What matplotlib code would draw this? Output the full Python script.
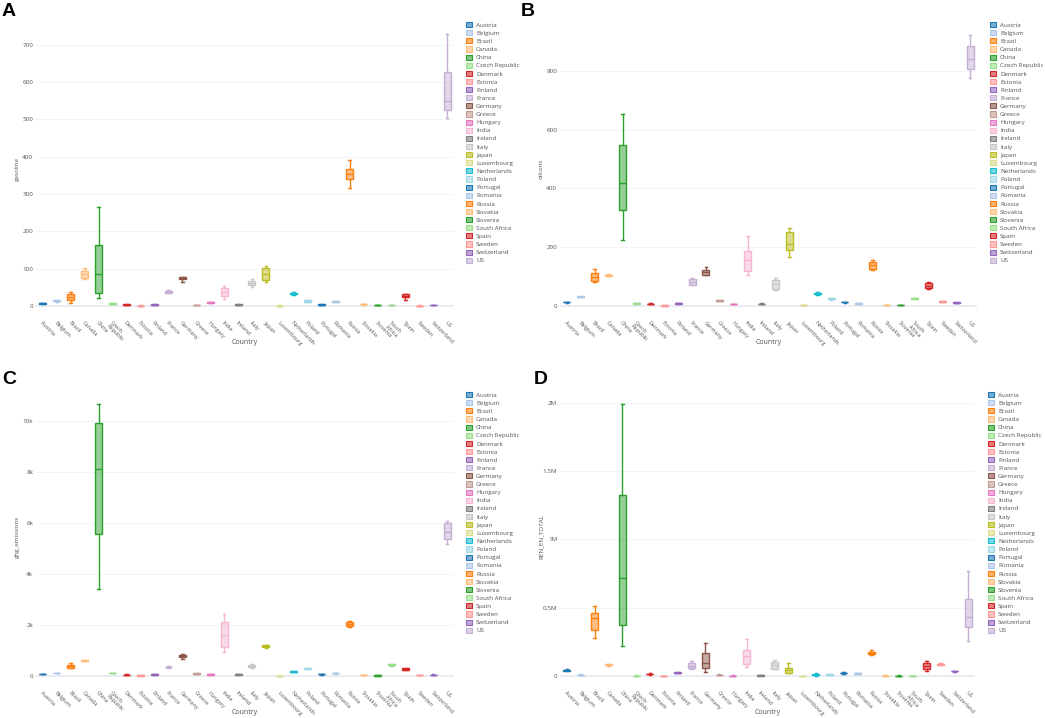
import numpy as np
import matplotlib as mpl
mpl.use('agg')
import matplotlib.pyplot as plt
from matplotlib.patches import Patch

plt.rcParams['font.family'] = ['Open Sans', 'DejaVu Sans']

countries = ['Austria', 'Belgium', 'Brazil', 'Canada', 'China', 'Czech Republic', 'Denmark',
             'Estonia', 'Finland', 'France', 'Germany', 'Greece', 'Hungary', 'India', 'Ireland',
             'Italy', 'Japan', 'Luxembourg', 'Netherlands', 'Poland', 'Portugal', 'Romania',
             'Russia', 'Slovakia', 'Slovenia', 'South Africa', 'Spain', 'Sweden', 'Switzerland', 'US']
# tick text wraps the two long names onto two lines
tick_names = [c.replace(' ', '\n') for c in countries]

# (whisker low, q1, median, q3, whisker high) per country
gasoline = [(5, 6, 7, 8, 9), (12, 13, 14, 15, 16), (8, 17, 24, 32, 38), (73, 76, 85, 95, 102),
            (21, 36, 85, 164, 265), (5, 6, 6, 7, 8), (3, 3.5, 4, 4.5, 5), (0.5, 0.8, 1, 1.2, 1.5),
            (3, 3.5, 4, 4.5, 5), (35, 36, 38, 40, 42), (65, 72, 74, 77, 78), (2, 2.5, 3, 3.5, 4),
            (8, 9, 10, 11, 12), (20, 26, 38, 48, 53), (3, 3.5, 4, 4.5, 5), (50, 57, 62, 68, 72),
            (63, 71, 87, 102, 107), (0.5, 0.8, 1, 1.2, 1.5), (29, 31, 33, 36, 38), (10, 11, 13, 15, 17),
            (3, 3.5, 4, 4.5, 5), (10, 11, 12, 13, 14), (315, 340, 353, 368, 391), (4, 4.5, 5, 5.5, 6),
            (1.5, 1.8, 2, 2.2, 2.5), (2, 2.5, 3, 3.5, 4), (15, 23, 27, 31, 33), (0.5, 0.8, 1, 1.2, 1.5),
            (2, 2.5, 3, 3.5, 4), (503, 524, 549, 628, 730)]

oilcons = [(11, 12, 12.5, 13, 14), (30, 31, 32, 33, 34), (82, 86, 100, 112, 127), (101, 103, 105, 107, 109),
           (224, 325, 419, 547, 654), (8, 8.5, 9, 9.5, 10), (7, 7.5, 8, 8.5, 9), (1, 1.2, 1.5, 1.8, 2),
           (8, 8.5, 9, 9.5, 10), (70, 72, 81, 92, 94), (106, 107, 115, 124, 132), (16, 17, 18, 19, 20),
           (6, 6.5, 7, 7.5, 8), (105, 119, 155, 187, 237), (7, 7.5, 8, 8.5, 9), (55, 58, 74, 89, 94),
           (167, 191, 212, 251, 264), (2, 2.2, 2.5, 2.8, 3), (39, 41, 42, 44, 46), (22, 24, 25, 27, 28),
           (11, 12, 13, 14, 15), (8, 8.5, 9, 9.5, 10), (122, 126, 138, 149, 156), (3, 3.5, 4, 4.5, 5),
           (2, 2.5, 3, 3.5, 4), (24, 25, 26, 27, 28), (57, 60, 68, 77, 80), (13, 14, 15, 16, 17),
           (10, 10.5, 11, 12, 12.5), (776, 805, 842, 884, 923)]

ghg_emissions = [(70, 75, 80, 85, 90), (105, 110, 115, 120, 125), (300, 330, 400, 450, 500),
                 (570, 580, 600, 615, 630), (3420, 5560, 8130, 9930, 10650), (110, 115, 120, 125, 130),
                 (40, 45, 50, 55, 60), (15, 18, 20, 22, 25), (50, 55, 60, 65, 70), (320, 335, 350, 365, 380),
                 (650, 740, 780, 820, 850), (85, 90, 95, 100, 105), (50, 55, 60, 65, 70),
                 (950, 1120, 1620, 2120, 2420), (50, 55, 60, 65, 70), (330, 345, 400, 440, 455),
                 (1080, 1130, 1170, 1200, 1230), (8, 10, 12, 14, 16), (150, 160, 170, 180, 190),
                 (280, 290, 300, 310, 320), (55, 60, 65, 70, 75), (95, 100, 110, 115, 120),
                 (1930, 1980, 2050, 2100, 2150), (35, 38, 40, 42, 45), (15, 18, 20, 22, 25),
                 (380, 420, 450, 470, 480), (240, 250, 280, 320, 330), (45, 48, 50, 52, 55),
                 (40, 45, 50, 55, 60), (5180, 5360, 5630, 5990, 6080)]

# in millions
ren_en_total = [(0.036, 0.039, 0.042, 0.045, 0.048), (0.004, 0.006, 0.008, 0.010, 0.013),
                (0.277, 0.34, 0.426, 0.458, 0.515), (0.076, 0.079, 0.083, 0.087, 0.09),
                (0.223, 0.377, 0.718, 1.328, 1.995), (0.002, 0.0025, 0.003, 0.0035, 0.004),
                (0.010, 0.012, 0.015, 0.018, 0.020), (0.001, 0.0015, 0.002, 0.0025, 0.003),
                (0.020, 0.022, 0.024, 0.026, 0.028), (0.054, 0.058, 0.075, 0.093, 0.113),
                (0.032, 0.059, 0.098, 0.172, 0.24), (0.005, 0.006, 0.008, 0.010, 0.011),
                (0.002, 0.0025, 0.003, 0.0035, 0.004), (0.069, 0.088, 0.147, 0.194, 0.272),
                (0.002, 0.003, 0.004, 0.005, 0.006), (0.048, 0.052, 0.08, 0.1, 0.12),
                (0.02, 0.025, 0.045, 0.061, 0.098), (0.0005, 0.0008, 0.001, 0.0012, 0.0015),
                (0.003, 0.006, 0.01, 0.014, 0.02), (0.004, 0.007, 0.01, 0.014, 0.018),
                (0.016, 0.019, 0.022, 0.025, 0.028), (0.015, 0.018, 0.02, 0.022, 0.025),
                (0.155, 0.163, 0.17, 0.178, 0.19), (0.002, 0.0025, 0.003, 0.0035, 0.004),
                (0.002, 0.0025, 0.003, 0.0035, 0.004), (0.001, 0.0015, 0.002, 0.0025, 0.003),
                (0.035, 0.049, 0.075, 0.098, 0.11), (0.078, 0.081, 0.085, 0.089, 0.093),
                (0.031, 0.033, 0.035, 0.037, 0.039), (0.26, 0.36, 0.434, 0.561, 0.767)]

ticks_a = [0, 100, 200, 300, 400, 500, 600, 700]
ticks_b = [0, 200, 400, 600, 800]
ticks_c = [0, 2000, 4000, 6000, 8000, 10000]
labels_c = ['0', '2k', '4k', '6k', '8k', '10k']
ticks_d = [0, 0.5e6, 1e6, 1.5e6, 2e6]
labels_d = ['0', '0.5M', '1M', '1.5M', '2M']

W, H = 1045, 718
colors = [plt.cm.tab20(i % 20) for i in range(len(countries))]


def px_axes(fig, x0, y0, x1, y1):
    return fig.add_axes([x0 / W, 1 - y1 / H, (x1 - x0) / W, (y1 - y0) / H])


def draw_panel(fig, rect, data, scale, ylim, ticks, ticklabels, ylabel, letter, letter_xy, legend_xy):
    x0, y0, x1, y1 = rect
    ax = px_axes(fig, x0, y0, x1, y1)
    stats = []
    for name, (lo, q1, med, q3, hi) in zip(countries, data):
        stats.append(dict(label=name, whislo=lo * scale, q1=q1 * scale, med=med * scale,
                          q3=q3 * scale, whishi=hi * scale, fliers=[]))
    pos = np.arange(len(countries))
    bp = ax.bxp(stats, positions=pos, widths=0.5, capwidths=0.2, patch_artist=True,
                showfliers=False, manage_ticks=False)
    for i, c in enumerate(colors):
        bp['boxes'][i].set_facecolor((c[0], c[1], c[2], 0.5))
        bp['boxes'][i].set_edgecolor(c)
        bp['boxes'][i].set_linewidth(1.0)
        bp['medians'][i].set_color(c)
        bp['medians'][i].set_linewidth(1.0)
        for j in (2 * i, 2 * i + 1):
            bp['whiskers'][j].set_color(c)
            bp['whiskers'][j].set_linewidth(1.0)
            bp['caps'][j].set_color(c)
            bp['caps'][j].set_linewidth(1.0)
    ax.set_xlim(-0.5, len(countries) - 0.5)
    ax.set_ylim(*ylim)
    ax.set_yticks(ticks)
    ax.set_yticklabels(ticklabels)
    ax.set_xticks(pos)
    ax.set_xticklabels(tick_names, rotation=-45, ha='left', va='top', rotation_mode='anchor',
                       fontsize=4.0, linespacing=1.0)
    for t in ticks:
        ax.axhline(t, color='#e6e9ef' if t == 0 else '#f1f3f6', lw=1.2 if t == 0 else 0.6, zorder=0)
    for s in ax.spines.values():
        s.set_visible(False)
    ax.tick_params(axis='both', length=0, labelcolor='#555555')
    ax.tick_params(axis='y', pad=2, labelsize=4.5)
    ax.tick_params(axis='x', pad=7.5)
    axh = y1 - y0
    axw = x1 - x0
    ax.set_xlabel('Country', fontsize=5, color='#555555')
    ax.xaxis.set_label_coords(0.5, -29 / axh)
    ax.set_ylabel(ylabel, fontsize=4.5, color='#555555')
    ax.yaxis.set_label_coords(-16 / axw, 0.5)
    fig.text(letter_xy[0] / W, 1 - letter_xy[1] / H, letter, fontsize=14, fontweight='bold',
             family=['Liberation Sans', 'DejaVu Sans'], va='top', ha='left')
    handles = [Patch(facecolor=(c[0], c[1], c[2], 0.6), edgecolor=c, lw=0.8) for c in colors]
    fig.legend(handles, countries, loc='upper left',
               bbox_to_anchor=(legend_xy[0] / W, 1 - legend_xy[1] / H),
               frameon=False, fontsize=4.5, handlelength=0.9, handleheight=0.9,
               handletextpad=0.7, labelspacing=0.38, borderpad=0, borderaxespad=0,
               labelcolor='#555555')
    return ax


fig = plt.figure(figsize=(W / 100, H / 100), dpi=100)

draw_panel(fig, (36, 28, 454, 310), gasoline, 1, (-10.7, 745), ticks_a,
           [str(t) for t in ticks_a], 'gasoline', 'A', (2, 3), (466, 22))
draw_panel(fig, (560, 28, 977, 310), oilcons, 1, (-13.6, 946), ticks_b,
           [str(t) for t in ticks_b], 'oilcons', 'B', (521, 3), (990, 22))
draw_panel(fig, (36, 393, 454, 680), ghg_emissions, 1, (-157, 11098), ticks_c,
           labels_c, 'ghg_emissions', 'C', (2, 371), (466, 392))
draw_panel(fig, (560, 393, 975, 680), ren_en_total, 1e6, (-29300, 2.073e6), ticks_d,
           labels_d, 'REN_EN_TOTAL', 'D', (534, 371), (988, 392))

plt.savefig('out.png', dpi=100)
